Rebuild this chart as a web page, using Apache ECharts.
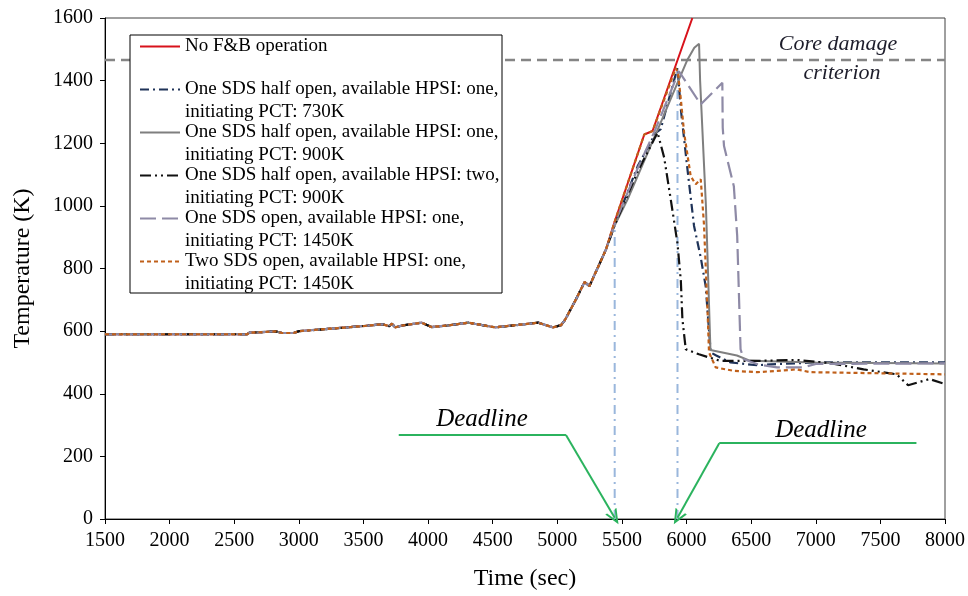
<!DOCTYPE html>
<html>
<head>
<meta charset="utf-8">
<script src="https://cdn.jsdelivr.net/npm/echarts@6/dist/echarts.min.js"></script>
<style>
  html, body { margin: 0; padding: 0; background: #fff; }
  #chart { width: 968px; height: 596px; }
</style>
</head>
<body>
<div id="chart"></div>
<script>
// temperature (K) vs time (sec); all cases share the same history before ~5400 s
const commonPart = [[1500,590],[2600,590],[2617,595],[2825,599],[2870,594],[2960,594],[3002,600],
  [3257,608],[3518,617],[3643,622],[3700,616],[3720,624],[3745,612],[3800,618],[3950,627],[4027,613],
  [4150,618],[4312,627],[4520,612],[4700,620],[4851,627],[4967,612],[5029,619],[5060,636],[5145,702],
  [5211,757],[5249,744],[5377,861]];

const noFB = [[5441,946],[5673,1228],[5737,1239],[5917,1450],[6045,1600]];
const halfOne730 = [[5441,935],[5622,1127],[5760,1232],[5800,1245],[5930,1441],[5956,1308],[6007,1117],
  [6058,936],[6110,835],[6148,744],[6187,532],[6230,522],[6340,500],[6546,491],[6650,494],[7000,500],[8000,500]];
const halfOne900 = [[5441,935],[5544,1021],[5800,1266],[5876,1340],[6007,1467],[6060,1505],[6097,1518],
  [6105,1400],[6150,1000],[6185,540],[6390,522],[6494,505],[7000,500],[8000,497]];
const halfTwo900 = [[5441,935],[5622,1110],[5776,1234],[5827,1154],[5878,1020],[5930,880],[5956,760],
  [5968,638],[5994,542],[6096,526],[6261,505],[6546,505],[6854,508],[7110,498],[7370,478],[7625,462],
  [7715,427],[7880,447],[8000,431]];
const openOne1450 = [[5441,940],[5622,1120],[5760,1245],[5941,1430],[6110,1324],[6277,1393],[6280,1250],
  [6290,1191],[6366,1063],[6392,904],[6418,542],[6443,510],[6550,494],[6700,484],[6900,484],[7000,495],[8000,497]];
const twoOpen1450 = [[5441,946],[5673,1228],[5737,1239],[5917,1440],[5935,1420],[5956,1340],[5981,1234],
  [6032,1095],[6071,1069],[6110,1085],[6135,940],[6161,680],[6174,532],[6226,484],[6366,473],[6550,469],
  [6800,476],[6850,478],[6957,469],[8000,462]];

const seriesNames = [
  'No F&B operation',
  'One SDS half open, available HPSI: one,\ninitiating PCT: 730K',
  'One SDS half open, available HPSI: one,\ninitiating PCT: 900K',
  'One SDS half open, available HPSI: two,\ninitiating PCT: 900K',
  'One SDS open, available HPSI: one,\ninitiating PCT: 1450K',
  'Two SDS open, available HPSI: one,\ninitiating PCT: 1450K'
];

const coreDamageLimit = 1466;
const deadlineTimes = [[5444, 941], [5930, 1436]];   // time, top of the marker line
const deadlineLeft = [[3773, 268], [5067, 268], [5444, 4]];
const deadlineRight = [[7779, 242], [6253, 242], [5930, 4]];

const serif = 'Liberation Serif';
const green = '#2bb35e';
const arrowHead = 'path://M0,10 L5,0 L10,10 L8.4,10 L5,3.2 L1.6,10 Z';

function curve(name, part, color, width, dash) {
  return {
    name: name, type: 'line', data: commonPart.concat(part),
    symbol: 'none', silent: true, z: 2,
    lineStyle: { color: color, width: width, type: dash },
    itemStyle: { color: color }
  };
}

function deadlineMarks(pts) {
  return [
    [{ coord: pts[0] }, { coord: pts[1] }],
    [{ coord: pts[1] }, { coord: pts[2], symbol: arrowHead, symbolSize: [13, 15] }]
  ];
}

const plainNumber = v => String(v);

const chart = echarts.init(document.getElementById('chart'));
chart.setOption({
  animation: false,
  backgroundColor: '#fff',
  textStyle: { fontFamily: serif },
  grid: { left: 105, right: 21, top: 18, bottom: 76, show: true, borderColor: '#404040', borderWidth: 1 },
  xAxis: {
    type: 'value', min: 1500, max: 8000, interval: 500,
    name: 'Time (sec)', nameLocation: 'middle', nameGap: 48,
    nameTextStyle: { fontFamily: serif, fontSize: 24, color: '#000' },
    axisLine: { lineStyle: { color: '#000' } },
    axisTick: { show: true, inside: false, length: 5, lineStyle: { color: '#000' } },
    axisLabel: { fontFamily: serif, fontSize: 20, color: '#000', margin: 12, formatter: plainNumber },
    splitLine: { show: false }
  },
  yAxis: {
    type: 'value', min: 0, max: 1600, interval: 200,
    name: 'Temperature (K)', nameLocation: 'middle', nameGap: 70,
    nameTextStyle: { fontFamily: serif, fontSize: 24, color: '#000' },
    axisLine: { show: true, lineStyle: { color: '#000' } },
    axisTick: { show: true, inside: false, length: 5, lineStyle: { color: '#000' } },
    axisLabel: { fontFamily: serif, fontSize: 20, color: '#000', margin: 12, formatter: plainNumber },
    splitLine: { show: false }
  },
  legend: {
    orient: 'vertical', left: 139, top: 12, padding: 0,
    itemWidth: 40, itemHeight: 10, itemGap: -26,
    data: seriesNames,
    selectedMode: false,
    itemStyle: { opacity: 0 },
    formatter: function (name) {
      return name.indexOf('\n') < 0 ? '\n' + name + '\n' : '\n' + name;
    },
    textStyle: { fontFamily: serif, fontSize: 19, lineHeight: 23, color: '#000' }
  },
  graphic: [
    { type: 'rect', z: 3, shape: { x: 130, y: 35, width: 372, height: 258 },
      style: { fill: '#fff', stroke: '#000', lineWidth: 1 } },
    { type: 'text', z: 5, x: 838, y: 44,
      style: { text: 'Core damage', fontFamily: serif, fontStyle: 'italic', fontSize: 22,
        fill: '#1d1d2b', textAlign: 'center', textVerticalAlign: 'middle' } },
    { type: 'text', z: 5, x: 842, y: 73,
      style: { text: 'criterion', fontFamily: serif, fontStyle: 'italic', fontSize: 22,
        fill: '#1d1d2b', textAlign: 'center', textVerticalAlign: 'middle' } },
    { type: 'text', z: 5, x: 482, y: 419,
      style: { text: 'Deadline', fontFamily: serif, fontStyle: 'italic', fontSize: 25,
        fill: '#000', textAlign: 'center', textVerticalAlign: 'middle' } },
    { type: 'text', z: 5, x: 821, y: 430,
      style: { text: 'Deadline', fontFamily: serif, fontStyle: 'italic', fontSize: 25,
        fill: '#000', textAlign: 'center', textVerticalAlign: 'middle' } }
  ],
  series: [
    {
      name: 'core damage', type: 'line', symbol: 'none', silent: true, z: 1,
      data: [[1500, coreDamageLimit], [8000, coreDamageLimit]],
      lineStyle: { color: '#858585', width: 2.5, type: [10, 6] }
    },
    {
      name: 'deadline 1', type: 'line', symbol: 'none', silent: true, z: 1,
      data: [[deadlineTimes[0][0], 0], deadlineTimes[0]],
      lineStyle: { color: '#9ab7dc', width: 2, type: [9, 5, 2, 5] },
      markLine: {
        silent: true, symbol: ['none', 'none'], label: { show: false },
        lineStyle: { color: green, width: 2, type: 'solid' },
        itemStyle: { color: green },
        emphasis: { disabled: true },
        data: deadlineMarks(deadlineLeft).concat(deadlineMarks(deadlineRight))
      }
    },
    {
      name: 'deadline 2', type: 'line', symbol: 'none', silent: true, z: 1,
      data: [[deadlineTimes[1][0], 0], deadlineTimes[1]],
      lineStyle: { color: '#9ab7dc', width: 2, type: [9, 5, 2, 5] }
    },
    curve(seriesNames[0], noFB, '#d8121b', 2, 'solid'),
    curve(seriesNames[1], halfOne730, '#1f3358', 2.2, [9, 4, 2, 4]),
    curve(seriesNames[2], halfOne900, '#7f7f7f', 2, 'solid'),
    curve(seriesNames[3], halfTwo900, '#111111', 2.2, [11, 4, 2, 4, 2, 4]),
    curve(seriesNames[4], openOne1450, '#8e8aa6', 2.2, [16, 6]),
    curve(seriesNames[5], twoOpen1450, '#c0601a', 2.2, [4, 3])
  ]
});
</script>
</body>
</html>
